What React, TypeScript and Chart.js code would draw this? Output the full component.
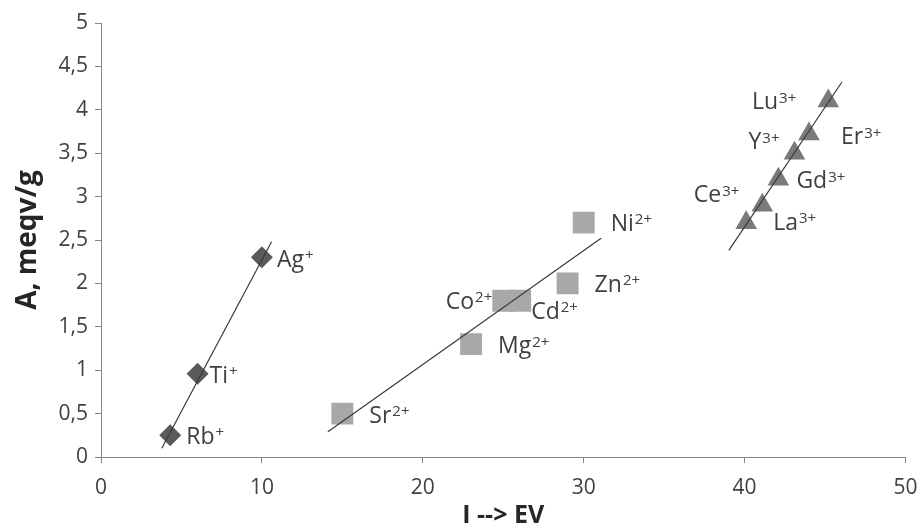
import { useEffect, useRef } from 'react';
import { Chart, registerables } from 'chart.js';

Chart.register(...registerables);

const FONT = "'Open Sans', sans-serif";

// ---- data ----
const monoX = [4.3, 6.0, 10.0];
const monoY = [0.25, 0.96, 2.3];
const monoIons = ['Rb', 'Ti', 'Ag'];
const monoCharge = '+';

const diX = [15.0, 23.0, 25.0, 26.05, 29.0, 30.0];
const diY = [0.5, 1.3, 1.8, 1.8, 2.0, 2.7];
const diIons = ['Sr', 'Mg', 'Co', 'Cd', 'Zn', 'Ni'];
const diCharge = '2+';

const triX = [40.1, 41.1, 42.1, 43.1, 44.0, 45.2];
const triY = [2.7, 2.9, 3.2, 3.5, 3.72, 4.1];
const triIons = ['La', 'Ce', 'Gd', 'Y', 'Er', 'Lu'];
const triCharge = '3+';

// trend lines (end points)
const monoTrendX = [3.78, 10.6];
const monoTrendY = [0.1, 2.48];
const diTrendX = [14.1, 31.08];
const diTrendY = [0.29, 2.52];
const triTrendX = [39.02, 46.05];
const triTrendY = [2.38, 4.32];

// axis settings
const xMin = 0, xMax = 50, xStep = 10;
const yMin = 0, yMax = 5, yStep = 0.5;
const xTitle = 'I --> EV';
const yTitle = 'A, meqv/g';

// label placement: [dx, dy, align] in pixels relative to the marker
const monoLabelPos: [number, number, string][] = [[16, 0, 'left'], [12, 1, 'left'], [15, 1, 'left']];
const diLabelPos: [number, number, string][] = [
  [27, 1, 'left'], [27, 1, 'left'], [-11, 0, 'right'], [11, 10, 'left'], [27, 0, 'left'], [27, 0, 'left'],
];
const triLabelPos: [number, number, string][] = [
  [27, -1, 'left'], [-23, -11, 'right'], [18, 1, 'left'], [-15, -12, 'right'], [32, 2, 'left'], [-32, 0, 'right'],
];

const toPts = (xs: number[], ys: number[]) => xs.map((x, i) => ({ x, y: ys[i] }));

const labelGroups = [
  { ds: 0, names: monoIons, charge: monoCharge, pos: monoLabelPos },
  { ds: 1, names: diIons, charge: diCharge, pos: diLabelPos },
  { ds: 2, names: triIons, charge: triCharge, pos: triLabelPos },
];

const ionLabelPlugin = {
  id: 'ionLabels',
  afterDatasetsDraw(chart: any) {
    const ctx = chart.ctx as CanvasRenderingContext2D;
    ctx.save();
    ctx.fillStyle = '#404040';
    ctx.textBaseline = 'alphabetic';
    ctx.textAlign = 'left';
    const mainFont = `23px ${FONT}`;
    const supFont = `15px ${FONT}`;
    labelGroups.forEach((g) => {
      const meta = chart.getDatasetMeta(g.ds);
      g.names.forEach((name, i) => {
        const el = meta.data[i];
        if (!el) return;
        const [dx, dy, align] = g.pos[i];
        ctx.font = mainFont;
        const wMain = ctx.measureText(name).width;
        ctx.font = supFont;
        const wSup = ctx.measureText(g.charge).width;
        const total = wMain + 1 + wSup;
        const left = align === 'right' ? el.x + dx - total : el.x + dx;
        const base = el.y + dy + 8.2;
        ctx.font = mainFont;
        ctx.fillText(name, left, base);
        ctx.font = supFont;
        ctx.fillText(g.charge, left + wMain + 1, base - 6.5);
      });
    });
    ctx.restore();
  },
};

export default function App() {
  const ref = useRef<HTMLCanvasElement | null>(null);

  useEffect(() => {
    if (!ref.current) return;
    const tickFont = { family: FONT, size: 21 };
    const axisColor = '#868686';
    const trend = (xs: number[], ys: number[]) => ({
      type: 'scatter' as const,
      data: toPts(xs, ys),
      showLine: true,
      borderColor: '#3a3a3a',
      borderWidth: 1.2,
      pointRadius: 0,
      order: 0,
    });
    const chart = new Chart(ref.current, {
      type: 'scatter',
      data: {
        datasets: [
          {
            data: toPts(monoX, monoY),
            pointStyle: 'rectRot',
            pointRadius: 11,
            backgroundColor: '#5a5a5a',
            borderWidth: 0,
            order: 1,
          },
          {
            data: toPts(diX, diY),
            pointStyle: 'rect',
            pointRadius: 15.5,
            backgroundColor: '#a8a8a8',
            borderWidth: 0,
            order: 1,
          },
          {
            data: toPts(triX, triY),
            pointStyle: 'triangle',
            pointRadius: 12.5,
            backgroundColor: '#7a7a7a',
            borderWidth: 0,
            order: 1,
          },
          trend(monoTrendX, monoTrendY),
          trend(diTrendX, diTrendY),
          trend(triTrendX, triTrendY),
        ] as any,
      },
      options: {
        animation: false,
        responsive: false,
        events: [],
        layout: { padding: { top: 23, right: 14, left: 0, bottom: 0 } },
        plugins: { legend: { display: false }, tooltip: { enabled: false } },
        scales: {
          x: {
            type: 'linear',
            min: xMin,
            max: xMax,
            ticks: { stepSize: xStep, font: tickFont, color: '#404040', padding: 12 },
            grid: { display: true, drawOnChartArea: false, drawTicks: true, tickLength: 6, color: axisColor },
            border: { display: true, color: axisColor, width: 1 },
            title: {
              display: true,
              text: xTitle,
              color: '#262626',
              font: { family: FONT, size: 25, weight: 'bold', lineHeight: 0.8 },
              padding: { top: 0, bottom: -3 },
            },
            afterFit: (s: any) => { s.height = 66; s.paddingLeft = 0; s.paddingRight = 0; },
          },
          y: {
            type: 'linear',
            min: yMin,
            max: yMax,
            ticks: {
              stepSize: yStep,
              font: tickFont,
              color: '#404040',
              padding: 7,
              callback: (v: any) => String(v).replace('.', ','),
            },
            grid: { display: true, drawOnChartArea: false, drawTicks: true, tickLength: 6, color: axisColor },
            border: { display: true, color: axisColor, width: 1 },
            title: {
              display: true,
              text: yTitle,
              color: '#262626',
              font: { family: FONT, size: 28, weight: 'bold', lineHeight: 1.2 },
              padding: { top: 11, bottom: 0 },
            },
            afterFit: (s: any) => { s.width = 101; s.paddingTop = 0; s.paddingBottom = 0; },
          },
        },
      } as any,
      plugins: [ionLabelPlugin],
    });
    return () => chart.destroy();
  }, []);

  return (
    <div style={{ position: 'fixed', left: 0, top: 0, width: 921, height: 523, background: '#fff' }}>
      <canvas ref={ref} width={921} height={523} style={{ display: 'block', width: 921, height: 523 }} />
    </div>
  );
}
